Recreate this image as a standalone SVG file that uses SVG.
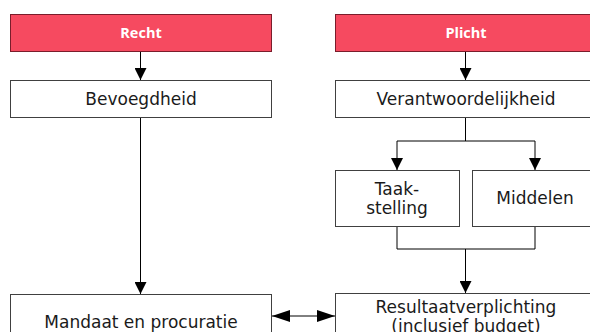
<svg xmlns="http://www.w3.org/2000/svg" width="590" height="332" viewBox="0 0 590 332">
<style>
.hdr{fill:#F64A60;stroke:#7A1D2B;stroke-width:1}
.box{fill:#FFFFFF;stroke:#404040;stroke-width:1}
.ht{font-family:"Open Sans","DejaVu Sans",sans-serif;font-weight:700;font-size:14.5px;fill:#FFFFFF;text-anchor:middle}
.t{font-family:"DejaVu Sans",Verdana,sans-serif;font-size:17px;fill:#1A1A1A;text-anchor:middle}
.c{fill:none;stroke:#000000;stroke-width:1}
</style>
<defs>
<marker id="ah" markerWidth="12" markerHeight="12" refX="12" refY="6" orient="auto" markerUnits="userSpaceOnUse">
<path d="M0,0 L12,6 L0,12 Z" fill="#000"/>
</marker>
<marker id="ah2" markerWidth="18" markerHeight="12" refX="18" refY="6" orient="auto-start-reverse" markerUnits="userSpaceOnUse">
<path d="M0,0 L18,6 L0,12 Z" fill="#000"/>
</marker>
</defs>
<g id="connectors">
<line class="c" x1="140.5" y1="52" x2="140.5" y2="80" marker-end="url(#ah)"/>
<line class="c" x1="465.5" y1="52" x2="465.5" y2="80" marker-end="url(#ah)"/>
<line class="c" x1="140.5" y1="117" x2="140.5" y2="294" marker-end="url(#ah)"/>
<polyline class="c" points="465.5,117 465.5,141"/>
<polyline class="c" points="397,141 535,141"/>
<line class="c" x1="397" y1="141" x2="397" y2="170" marker-end="url(#ah)"/>
<line class="c" x1="535" y1="141" x2="535" y2="170" marker-end="url(#ah)"/>
<polyline class="c" points="397,226 397,249 535,249 535,226"/>
<line class="c" x1="465.5" y1="249" x2="465.5" y2="293" marker-end="url(#ah)"/>
<line class="c" x1="272" y1="316" x2="335" y2="316" marker-start="url(#ah2)" marker-end="url(#ah2)"/>
</g>
<g id="recht">
<rect class="hdr" x="10.5" y="14.5" width="261" height="37"/>
<text class="ht" x="141" y="38">Recht</text>
</g>
<g id="plicht">
<rect class="hdr" x="335.5" y="14.5" width="261" height="37"/>
<text class="ht" x="466" y="38">Plicht</text>
</g>
<g id="bevoegdheid">
<rect class="box" x="10.5" y="80.5" width="261" height="37"/>
<text class="t" x="141" y="104.5">Bevoegdheid</text>
</g>
<g id="verantwoordelijkheid">
<rect class="box" x="335.5" y="80.5" width="261" height="37"/>
<text class="t" x="466" y="104.5">Verantwoordelijkheid</text>
</g>
<g id="taakstelling">
<rect class="box" x="335.5" y="170.5" width="124" height="56"/>
<text class="t" x="397" y="194.5">Taak-</text>
<text class="t" x="397" y="213.5">stelling</text>
</g>
<g id="middelen">
<rect class="box" x="472.5" y="170.5" width="126" height="56"/>
<text class="t" x="535" y="204">Middelen</text>
</g>
<g id="mandaat">
<rect class="box" x="10.5" y="294.5" width="261" height="50"/>
<text class="t" x="141" y="327.5">Mandaat en procuratie</text>
</g>
<g id="resultaat">
<rect class="box" x="335.5" y="293.5" width="261" height="50"/>
<text class="t" x="466" y="312.5">Resultaatverplichting</text>
<text class="t" x="466" y="332">(inclusief budget)</text>
</g>
</svg>
